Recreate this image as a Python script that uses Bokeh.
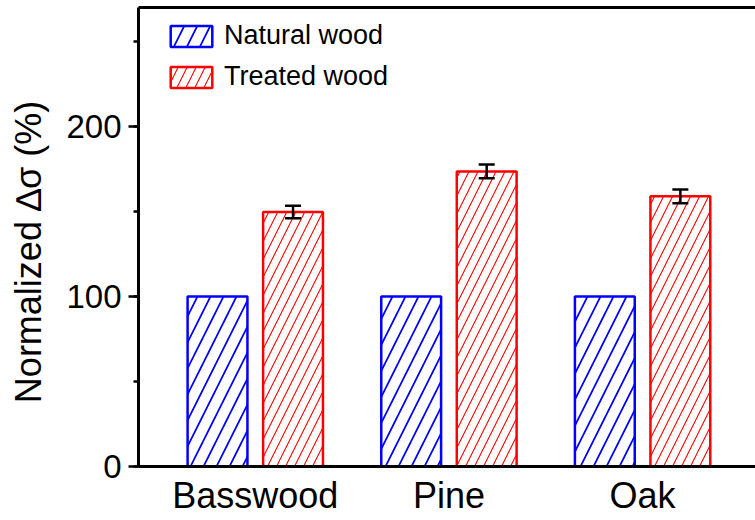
import numpy as np
from bokeh.plotting import figure
from bokeh.models import (ColumnDataSource, Range1d, LinearAxis, FixedTicker,
                          SingleIntervalTicker, Whisker, TeeHead, Legend, LegendItem)
from bokeh.embed import file_html
from bokeh.resources import INLINE

# ---- data ----
categories = ["Basswood", "Pine", "Oak"]
natural = [100, 100, 100]
treated = [149.7, 173.6, 158.9]
treated_err = [3.7, 4.1, 4.1]

FONT = "Liberation Sans"
BLUE = "#0000FF"
RED = "#FF0000"

xc = np.arange(1, len(categories) + 1, dtype=float)
off = 0.195
bw = 0.309

src = ColumnDataSource(dict(
    x_nat=xc - off,
    x_tr=xc + off,
    natural=natural,
    treated=treated,
    upper=np.array(treated) + np.array(treated_err),
    lower=np.array(treated) - np.array(treated_err),
))

p = figure(width=755, height=520, output_backend="svg", toolbar_location=None,
           x_range=Range1d(0.397, 3.583), y_range=Range1d(0, 270),
           min_border_left=138, min_border_right=0, min_border_top=7,
           min_border_bottom=54)
p.background_fill_color = "white"
p.border_fill_color = "white"
p.outline_line_color = None
p.grid.visible = False

r_nat = p.vbar(x="x_nat", top="natural", bottom=0, width=bw, source=src,
               fill_color="white", line_color=BLUE, line_width=2.5,
               hatch_pattern="/", hatch_color=BLUE, hatch_scale=26, hatch_weight=1.7)
r_tr = p.vbar(x="x_tr", top="treated", bottom=0, width=bw, source=src,
              fill_color="white", line_color=RED, line_width=2.5,
              hatch_pattern="/", hatch_color=RED, hatch_scale=18, hatch_weight=1.1)

wh = Whisker(source=src, base="x_tr", upper="upper", lower="lower",
             dimension="height", line_color="black", line_width=2.5, level="overlay",
             upper_head=TeeHead(size=16, line_width=2.5, line_color="black"),
             lower_head=TeeHead(size=16, line_width=2.5, line_color="black"))
p.add_layout(wh)

# x axis (bottom)
xa = p.xaxis[0]
xa.ticker = FixedTicker(ticks=list(xc))
xa.major_label_overrides = {float(v): c for v, c in zip(xc, categories)}
xa.major_tick_line_color = None
xa.minor_tick_line_color = None
xa.major_tick_out = 0
xa.axis_line_width = 3
xa.axis_line_color = "black"
xa.major_label_text_font = FONT
xa.major_label_text_font_size = "36px"
xa.major_label_text_color = "black"
xa.major_label_standoff = 8

# y axis (left)
ya = p.yaxis[0]
ya.ticker = SingleIntervalTicker(interval=100, num_minor_ticks=2)
ya.axis_line_width = 3
ya.axis_line_color = "black"
ya.major_tick_out = 10
ya.major_tick_in = 0
ya.minor_tick_out = 5
ya.minor_tick_in = 0
ya.major_tick_line_width = 2.5
ya.minor_tick_line_width = 2.5
ya.major_tick_line_color = "black"
ya.minor_tick_line_color = "black"
ya.major_label_text_font = FONT
ya.major_label_text_font_size = "33px"
ya.major_label_text_color = "black"
ya.major_label_standoff = 7
ya.axis_label = "Normalized \u2206\u03c3 (%)" + "\u00a0" * 3
ya.axis_label_text_font = FONT
ya.axis_label_text_font_size = "36px"
ya.axis_label_text_font_style = "normal"
ya.axis_label_text_color = "black"
ya.axis_label_standoff = 14

# top border line
ta = LinearAxis(ticker=FixedTicker(ticks=[]), axis_line_width=3, axis_line_color="black",
                major_tick_line_color=None, minor_tick_line_color=None,
                major_tick_out=0, minor_tick_out=0, major_label_text_font_size="0px",
                major_label_standoff=0)
p.add_layout(ta, "above")

legend = Legend(items=[LegendItem(label="Natural wood", renderers=[r_nat]),
                       LegendItem(label="Treated wood", renderers=[r_tr])],
                location=(27, 374), glyph_width=52, glyph_height=26,
                label_text_font=FONT, label_text_font_size="27px",
                label_text_color="black",
                label_standoff=7, spacing=10, padding=0, margin=0,
                border_line_color=None, background_fill_alpha=0,
                label_height=26)
p.add_layout(legend)

open("out.html", "w").write(file_html(p, INLINE))
